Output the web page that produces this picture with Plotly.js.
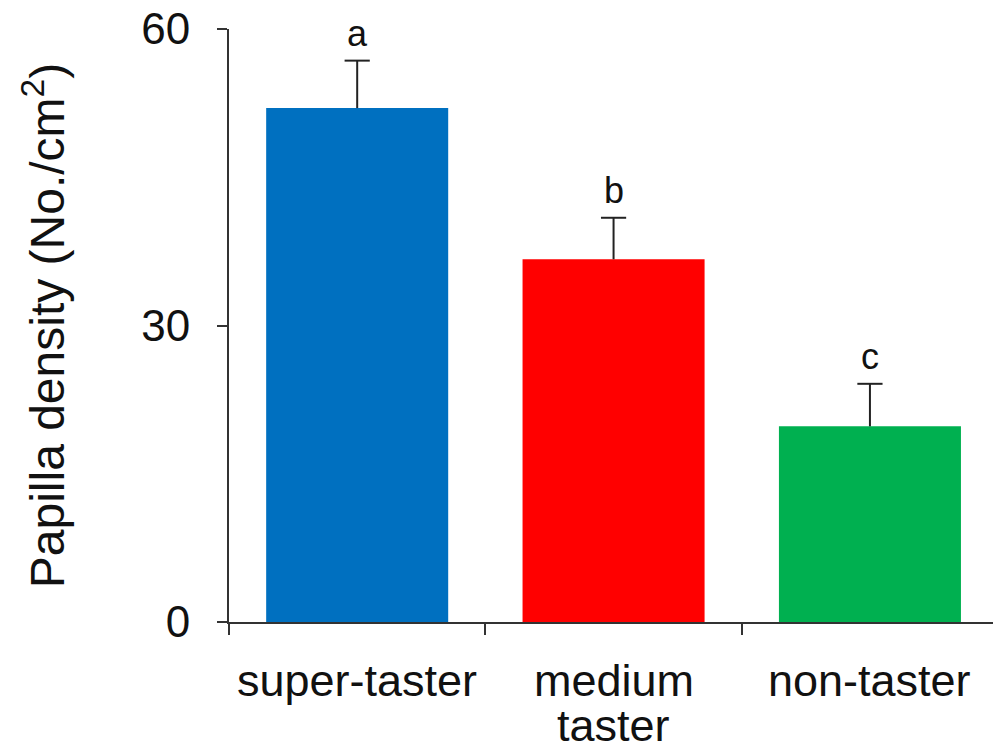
<!DOCTYPE html>
<html>
<head>
<meta charset="utf-8">
<script src="https://cdn.plot.ly/plotly-3.0.1.min.js"></script>
<style>html,body{margin:0;padding:0;background:#fff;}#chart{width:993px;height:753px;}</style>
</head>
<body>
<div id="chart"></div>
<script>
const categories = ["super-taster", "medium\ntaster", "non-taster"];
const means = [52.0, 36.7, 19.8];
const errors = [4.8, 4.2, 4.3];
const letters = ["a", "b", "c"];
const barColors = ["#0070C0", "#FF0000", "#00B050"];
const yTicks = [0, 30, 60];

const FONT = "Liberation Sans, Arial, sans-serif";

const barTrace = {
  type: "bar",
  x: categories,
  y: means,
  marker: {color: barColors, line: {width: 0}},
  error_y: {type: "data", symmetric: false, array: errors, arrayminus: errors.map(() => 0),
            color: "#222", thickness: 2, width: 0},
  hoverinfo: "none"
};

// caps at the top of each error bar only
const capTrace = {
  type: "scatter", mode: "markers",
  x: categories,
  y: means.map((m, i) => m + errors[i]),
  marker: {symbol: "line-ew", size: 18, line: {width: 2, color: "#222"}},
  hoverinfo: "none"
};

const annotations = categories.map((c, i) => ({
  x: c, y: means[i] + errors[i], xref: "x", yref: "y",
  text: letters[i], showarrow: false, yanchor: "bottom", yshift: 5,
  font: {family: FONT, size: 36, color: "#111"}
}));

// category labels, one annotation per text line (tighter line spacing than tick labels)
const LINE_GAP = 45, FIRST_SHIFT = -31;
categories.forEach((c) => {
  c.split("\n").forEach((line, j) => {
    annotations.push({
      x: c, xref: "x", y: 0, yref: "paper",
      text: line, showarrow: false, yanchor: "top", xanchor: "center",
      yshift: FIRST_SHIFT - j * LINE_GAP,
      font: {family: FONT, size: 45, color: "#111"}
    });
  });
});

const layout = {
  width: 993, height: 753,
  margin: {l: 229, r: 0, t: 29, b: 131},
  paper_bgcolor: "#fff", plot_bgcolor: "#fff",
  bargap: 0.29,
  showlegend: false,
  font: {family: FONT, color: "#111"},
  xaxis: {
    type: "category",
    range: [-0.5, 2.48],
    showline: true, linecolor: "#333", linewidth: 2,
    ticks: "outside", tickson: "boundaries", ticklen: 11, tickwidth: 2, tickcolor: "#333",
    showticklabels: false,
    showgrid: false, zeroline: false
  },
  yaxis: {
    range: [0, 60],
    tickvals: yTicks, ticktext: yTicks.map(String),
    showline: true, linecolor: "#333", linewidth: 2,
    ticks: "outside", ticklen: 10, tickwidth: 2, tickcolor: "#333",
    tickfont: {size: 44, color: "#111"},
    ticklabelstandoff: 18,
    showgrid: false, zeroline: false,
    title: {text: "Papilla density (No./cm<sup>2</sup>)", font: {size: 48, color: "#111"}, standoff: 61}
  },
  annotations: annotations
};

Plotly.newPlot("chart", [barTrace, capTrace], layout, {staticPlot: true, displayModeBar: false});
</script>
</body>
</html>
